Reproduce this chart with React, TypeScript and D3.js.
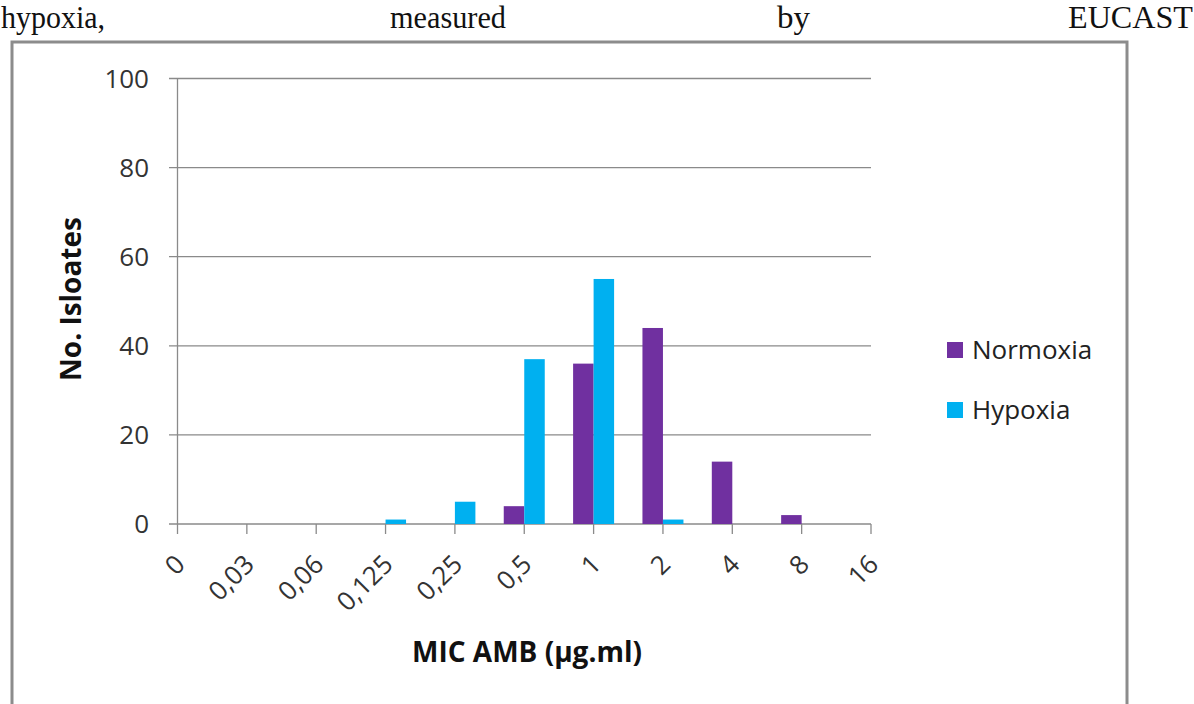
import React from "react";
import * as d3 from "d3";

const categories = ["0", "0,03", "0,06", "0,125", "0,25", "0,5", "1", "2", "4", "8", "16"];
const seriesNames = ["Normoxia", "Hypoxia"];
const normoxia = [0, 0, 0, 0, 0, 4, 36, 44, 14, 2, 0];
const hypoxia = [0, 0, 0, 1, 5, 37, 55, 1, 0, 0, 0];
const yTicks = [0, 20, 40, 60, 80, 100];
const colors = ["#7030A0", "#00B0F0"];
const headerWords = ["hypoxia,", "measured", "by", "EUCAST"];

export default function App() {
  const W = 1194, H = 704;
  const x = d3.scalePoint<string>().domain(categories).range([177.5, 871]);
  const y = d3.scaleLinear().domain([0, 100]).range([524, 78.5]);
  const xs = d3.scaleBand<string>().domain(seriesNames).range([-20.5, 20.5]);
  const values = [normoxia, hypoxia];
  const font = "'Open Sans', sans-serif";
  const headerPos = [
    { x: 1, len: 104 },
    { x: 390, len: 116 },
    { x: 777, len: 33 },
    { x: 1068, len: 125 },
  ];
  return (
    <svg width={W} height={H} style={{ position: "absolute", left: 0, top: 0, background: "#fff" }}>
      <rect x={0} y={0} width={W} height={H} fill="#fff" />
      {headerWords.map((w, i) => (
        <text key={w} x={headerPos[i].x} y={28} fontFamily="'Liberation Serif', serif" fontSize={31}
          textLength={headerPos[i].len} lengthAdjust="spacingAndGlyphs" fill="#111">{w}</text>
      ))}
      <rect x={12} y={42} width={1115} height={700} fill="none" stroke="#8c8c8c" strokeWidth={3} />
      {yTicks.map((t) => (
        <g key={t}>
          <line x1={169} x2={871} y1={y(t)} y2={y(t)} stroke="#8a8a8a" strokeWidth={1.3} />
          <text x={149} y={y(t)} dy="0.36em" textAnchor="end" fontFamily={font} fontSize={26} fill="#333">{t}</text>
        </g>
      ))}
      <line x1={177.5} x2={177.5} y1={y(100)} y2={y(0)} stroke="#8a8a8a" strokeWidth={1.3} />
      {categories.map((c) => (
        <g key={c}>
          <line x1={x(c)} x2={x(c)} y1={y(0)} y2={y(0) + 10} stroke="#8a8a8a" strokeWidth={1.3} />
          <text transform={`translate(${(x(c) as number) + 9},566) rotate(-45)`} textAnchor="end"
            fontFamily={font} fontSize={26} fill="#333">{c}</text>
        </g>
      ))}
      {seriesNames.map((s, si) =>
        categories.map((c, ci) => {
          const v = values[si][ci];
          if (!v) return null;
          const bx = (x(c) as number) + (xs(s) as number);
          return <rect key={s + c} x={bx} y={y(v)} width={xs.bandwidth()} height={y(0) - y(v)} fill={colors[si]} />;
        })
      )}
      <text transform={`translate(81,299) rotate(-90)`} textAnchor="middle" fontFamily={font} fontWeight="bold"
        fontSize={28} fill="#111">No. Isloates</text>
      <text x={527} y={662} textAnchor="middle" fontFamily={font} fontWeight="bold" fontSize={28} fill="#111">MIC AMB (µg.ml)</text>
      {seriesNames.map((s, i) => (
        <g key={s} transform={`translate(947,${342 + i * 60})`}>
          <rect x={0} y={0} width={16} height={16} fill={colors[i]} />
          <text x={25} y={8} dy="0.36em" fontFamily={font} fontSize={26} fill="#222">{s}</text>
        </g>
      ))}
    </svg>
  );
}
